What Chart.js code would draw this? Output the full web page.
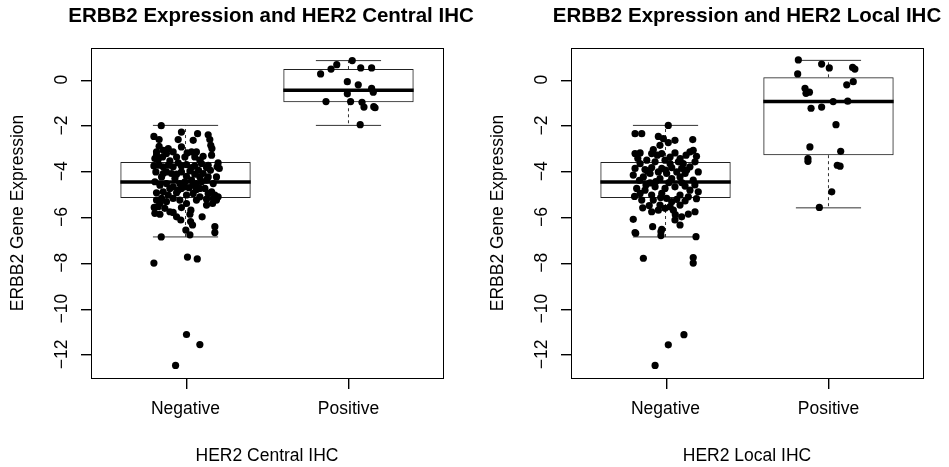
<!DOCTYPE html>
<html><head><meta charset="utf-8">
<script src="https://cdn.jsdelivr.net/npm/chart.js@4/dist/chart.umd.min.js"></script>
<style>
html,body{margin:0;padding:0;background:#fff;overflow:hidden;width:949px;height:467px}
canvas{position:absolute;top:0}
#c1{left:0}
#c2{left:480px}
</style></head><body>
<canvas id="c1" width="474" height="467"></canvas>
<canvas id="c2" width="469" height="467"></canvas>
<script>
// ---------- data ----------
const categories = ['Negative', 'Positive'];
const yTickValues = [-12, -10, -8, -6, -4, -2, 0];

// Box statistics per category [Negative, Positive]
const centralWhiskerLow  = [-6.87, -2.00];
const centralQ1          = [-5.17, -0.99];
const centralMedian      = [-4.47, -0.47];
const centralQ3          = [-3.60,  0.46];
const centralWhiskerHigh = [-2.00,  0.83];

const localWhiskerLow  = [-6.87, -5.60];
const localQ1          = [-5.17, -3.30];
const localMedian      = [-4.47, -0.96];
const localQ3          = [-3.60,  0.10];
const localWhiskerHigh = [-2.00,  0.84];

// Jittered points: [horizontal jitter, expression value]
const centralNegative = [
[-0.149,-2.01],[-0.194,-2.48],[-0.162,-2.62],[-0.025,-2.29],[-0.045,-2.62],[0.047,-2.65],[0.074,-2.36],[0.139,-2.41],
[0.149,-2.62],[0.155,-2.87],[0.162,-3.01],[-0.162,-2.91],[-0.025,-2.94],[-0.076,-3.16],[-0.117,-3.23],[-0.178,-3.30],
[-0.188,-3.45],[-0.141,-3.38],[0.01,-3.20],[0.037,-3.16],[0.067,-3.16],[0.108,-3.35],[0.20,-3.64],[0.194,-3.81],
[0.139,-3.74],[0.098,-3.67],[0.057,-3.77],[0.006,-3.71],[-0.045,-3.64],[-0.076,-3.81],[-0.106,-3.74],[-0.137,-3.81],
[-0.162,-3.74],[-0.194,-3.77],[-0.182,-4.03],[-0.117,-4.03],[-0.086,-4.10],[-0.025,-4.03],[0.027,-3.99],[0.08,-3.96],
[0.108,-4.10],[0.153,-3.96],[0.207,-3.88],[-0.188,-4.46],[-0.147,-4.25],[-0.065,-4.32],[-0.035,-4.54],[-0.004,-4.46],
[0.037,-4.39],[0.067,-4.54],[0.098,-4.46],[0.129,-4.39],[0.17,-4.54],[-0.076,-4.68],[-0.025,-4.75],[0.022,-4.72],
[0.067,-4.80],[0.119,-4.75],[0.16,-4.90],[0.18,-5.04],[-0.178,-4.94],[-0.137,-4.90],[-0.106,-5.04],[-0.055,-4.94],
[0.006,-5.04],[0.047,-4.97],[0.088,-5.12],[0.129,-5.22],[0.19,-5.26],[0.20,-5.12],[-0.147,-5.19],[-0.117,-5.33],
[-0.157,-5.41],[-0.168,-5.55],[-0.192,-5.58],[-0.188,-5.84],[-0.157,-5.88],[-0.096,-5.77],[-0.076,-5.80],[-0.025,-5.59],
[0.033,-5.70],[0.027,-5.88],[-0.029,-6.13],[0.031,-6.20],[0.043,-6.35],[0.102,-5.99],[0.129,-5.48],[0.166,-5.41],
[0.002,-6.57],[0.027,-6.78],[0.18,-6.42],[0.18,-6.68],[-0.149,-6.87],[-0.194,-8.01],[0.012,-7.75],[0.072,-7.83],
[0.006,-11.13],[0.088,-11.57],[-0.061,-12.48],
[-0.178,-3.16],[-0.137,-3.09],[-0.106,-3.01],[-0.055,-3.38],[-0.004,-3.38],[0.057,-3.38],[0.088,-3.52],[0.16,-3.30],
[-0.168,-3.49],[-0.096,-3.55],[-0.025,-3.77],[0.037,-3.84],[0.129,-3.84],[-0.137,-4.10],[-0.055,-4.13],[0.006,-4.22],
[0.057,-4.13],[0.088,-4.25],[0.139,-4.25],[0.19,-4.25],[-0.157,-4.61],[-0.117,-4.54],[-0.096,-4.75],[-0.045,-4.83],
[-0.004,-4.68],[0.047,-4.61],[0.088,-4.75],[0.139,-4.97],[-0.178,-5.26],[-0.076,-5.19],[-0.035,-5.26],[0.067,-5.26],
[0.17,-5.19],[-0.127,-5.62],[0.006,-5.41],[-0.055,-5.99]
];
const centralPositive = [
[0.023,0.83],[-0.072,0.65],[-0.107,0.46],[-0.171,0.25],[0.075,0.51],[0.142,0.51],[-0.007,-0.09],[0.06,-0.23],
[0.142,-0.38],[0.152,-0.55],[-0.007,-0.62],[-0.138,-0.96],[0.013,-0.96],[0.083,-0.99],[0.095,-1.20],[0.163,-1.23],
[0.155,-1.18],[0.072,-1.97]
];
const localNegative = [
[0.017,-2.0],[-0.187,-2.36],[-0.146,-2.36],[-0.044,-2.48],[-0.013,-2.58],[0.017,-2.75],[0.058,-2.65],[-0.034,-2.87],
[0.167,-2.62],[-0.075,-3.06],[-0.085,-3.23],[-0.187,-3.23],[-0.156,-3.2],[-0.023,-3.23],[0.028,-3.38],[0.058,-3.2],
[0.15,-3.16],[0.17,-3.09],[0.126,-3.3],[-0.115,-3.52],[-0.064,-3.59],[-0.003,-3.52],[0.079,-3.59],[0.181,-3.59],
[-0.156,-3.67],[0.028,-3.67],[0.109,-3.67],[-0.187,-3.88],[-0.126,-3.93],[-0.085,-3.84],[-0.023,-3.88],[0.038,-3.84],
[0.099,-3.88],[0.15,-3.81],[0.201,-4.03],[-0.198,-4.17],[-0.095,-4.1],[-0.044,-4.03],[0.007,-4.1],[0.069,-4.03],
[0.12,-4.1],[-0.136,-4.25],[-0.034,-4.32],[0.038,-4.32],[0.089,-4.25],[0.17,-4.39],[-0.095,-4.51],[-0.064,-4.68],
[-0.177,-4.75],[-0.126,-4.83],[-0.003,-4.75],[0.058,-4.68],[0.12,-4.65],[0.15,-4.83],[0.201,-4.9],[-0.156,-4.97],
[-0.085,-5.04],[-0.023,-4.97],[0.089,-5.04],[0.14,-5.12],[-0.146,-5.26],[-0.075,-5.26],[0.007,-5.19],[0.038,-5.33],
[0.069,-5.23],[-0.034,-5.48],[0.028,-5.55],[0.089,-5.48],[-0.003,-5.62],[-0.085,-5.77],[-0.044,-5.7],[0.048,-5.7],
[0.099,-5.99],[0.14,-5.87],[0.181,-5.77],[-0.198,-6.1],[0.058,-6.13],[0.089,-6.35],[-0.079,-6.42],[-0.023,-6.54],
[-0.187,-6.68],[-0.183,-6.71],[-0.028,-6.64],[-0.028,-6.81],[0.187,-6.86],[-0.136,-7.8],[0.17,-7.77],[0.17,-8.01],
[0.113,-11.14],[0.017,-11.58],[-0.064,-12.48],
[-0.17,-3.45],[-0.05,-3.3],[0.09,-3.45],[0.19,-3.35],[-0.11,-4.0],[0.0,-3.95],[0.13,-3.95],[-0.16,-4.4],
[-0.06,-4.45],[0.02,-4.5],[0.1,-4.5],[0.18,-4.6],[-0.12,-4.6],[-0.19,-5.1],[-0.03,-5.15],[0.12,-5.3],
[0.19,-5.2],[-0.1,-5.5],[0.06,-5.9],[-0.14,-5.6]
];
const localPositive = [
[-0.185,0.86],[-0.042,0.68],[0.005,0.51],[0.148,0.53],[0.162,0.46],[-0.189,0.25],[0.152,-0.09],[0.112,-0.23],
[-0.144,-0.38],[-0.138,-0.6],[-0.117,-0.55],[0.029,-0.96],[0.118,-0.94],[-0.107,-1.25],[-0.042,-1.2],[0.046,-1.97],
[-0.114,-2.94],[0.075,-3.13],[-0.126,-3.45],[-0.126,-3.57],[0.054,-3.74],[0.071,-3.78],[0.02,-4.9],[-0.056,-5.58]
];

// ---------- rendering ----------
const FONT = "'Liberation Sans', Arial, Helvetica, sans-serif";
const BOX_HALF = 0.4, STAPLE_HALF = 0.2;
const Y_MIN = -13.03, Y_MAX = 1.38;
const TICK_LEN = 10;

const fmt = v => (v < 0 ? '\u2212' + Math.abs(v) : String(v));

const decorPlugin = {
  id: 'decor',
  afterDraw(chart) {
    const {ctx, chartArea: a} = chart;
    const xs = chart.scales.x, ys = chart.scales.y;
    const L = Math.round(a.left), T = Math.round(a.top), R = Math.round(a.right), B = Math.round(a.bottom);
    ctx.save();
    ctx.fillStyle = '#000';
    // frame
    ctx.fillRect(L, T, R - L + 1, 1);
    ctx.fillRect(L, B, R - L + 1, 1);
    ctx.fillRect(L, T, 1, B - T + 1);
    ctx.fillRect(R, T, 1, B - T + 1);
    // tick marks
    categories.forEach((c, i) => {
      const px = Math.round(xs.getPixelForValue(i + 1));
      ctx.fillRect(px, B, 1.4, TICK_LEN + 1);
    });
    yTickValues.forEach(v => {
      const py = Math.round(ys.getPixelForValue(v));
      ctx.fillRect(L - TICK_LEN, py, TICK_LEN + 1, 1.4);
    });

    ctx.font = "17.5px " + FONT;
    ctx.textAlign = 'center';
    ctx.textBaseline = 'middle';
    yTickValues.forEach(v => {
      const py = ys.getPixelForValue(v);
      ctx.save();
      ctx.translate(62, py);
      ctx.rotate(-Math.PI / 2);
      ctx.fillText(fmt(v), 0, 0);
      ctx.restore();
    });
    ctx.font = "bold 20.5px " + FONT;
    ctx.fillText(chart.options.plugins.decor.title, (a.left + a.right) / 2 + chart.options.plugins.decor.titleShift, 16.5);
    ctx.restore();
  }
};

function makeChart(id, title, xTitle, lo, q1, med, q3, hi, neg, pos, padRight, titleShift) {
  const boxes = categories.map((c, i) => ({x: i + 1, y: [q1[i], q3[i]]}));
  const medians = [], whiskers = [], staples = [];
  categories.forEach((c, i) => {
    const x = i + 1;
    medians.push({x: x - BOX_HALF, y: med[i]}, {x: x + BOX_HALF, y: med[i]}, {x: x, y: null});
    whiskers.push({x: x, y: q3[i]}, {x: x, y: hi[i]}, {x: x, y: null},
                  {x: x, y: q1[i]}, {x: x, y: lo[i]}, {x: x, y: null});
    staples.push({x: x - STAPLE_HALF, y: hi[i]}, {x: x + STAPLE_HALF, y: hi[i]}, {x: x, y: null},
                 {x: x - STAPLE_HALF, y: lo[i]}, {x: x + STAPLE_HALF, y: lo[i]}, {x: x, y: null});
  });
  const points = [];
  [neg, pos].forEach((grp, i) => grp.forEach(p => points.push({x: i + 1 + p[0], y: p[1]})));

  return new Chart(document.getElementById(id), {
    type: 'scatter',
    data: {
      datasets: [
        {type: 'scatter', data: points, order: 0, pointRadius: 3.6, pointHoverRadius: 3.6,
         backgroundColor: '#000', borderWidth: 0},
        {type: 'line', data: medians, order: 1, borderColor: '#000', borderWidth: 3.5, pointRadius: 0,
         spanGaps: false, tension: 0, fill: false, borderCapStyle: 'butt'},
        {type: 'line', data: staples, order: 2, borderColor: '#333', borderWidth: 1, pointRadius: 0,
         spanGaps: false, tension: 0, fill: false},
        {type: 'line', data: whiskers, order: 3, borderColor: '#333', borderWidth: 1, borderDash: [3, 3],
         pointRadius: 0, spanGaps: false, tension: 0, fill: false},
        {type: 'bar', data: boxes, order: 4, backgroundColor: 'rgba(0,0,0,0)', borderColor: '#222',
         borderWidth: 1, borderSkipped: false, barPercentage: 0.8, categoryPercentage: 1}
      ]
    },
    options: {
      responsive: false,
      animation: false,
      events: [],
      layout: {padding: {left: 0, right: padRight, top: 48, bottom: 0}},
      plugins: {
        legend: {display: false},
        tooltip: {enabled: false},
        title: {display: false},
        decor: {title: title, titleShift: titleShift}
      },
      scales: {
        x: {
          type: 'linear', min: 0.42, max: 2.58, offset: false,
          afterBuildTicks: s => { s.ticks = categories.map((c, i) => ({value: i + 1})); },
          afterFit: s => { s.height = 89; },
          ticks: {autoSkip: false, maxRotation: 0, minRotation: 0, padding: 13, color: '#000',
                  font: {family: FONT, size: 17.5},
                  callback: v => categories[Math.round(v) - 1]},
          grid: {display: false},
          border: {display: false},
          title: {display: true, text: xTitle, color: '#000', font: {family: FONT, size: 17.5},
                  padding: {top: 5.5, bottom: 0}}
        },
        y: {
          type: 'linear', min: Y_MIN, max: Y_MAX,
          afterBuildTicks: s => { s.ticks = yTickValues.map(v => ({value: v})); },
          afterFit: s => { s.width = 91; },
          ticks: {display: false},
          grid: {display: false},
          border: {display: false},
          title: {display: true, text: 'ERBB2 Gene Expression', color: '#000',
                  font: {family: FONT, size: 17.5}, padding: {top: 7.5, bottom: 0}}
        }
      }
    },
    plugins: [decorPlugin]
  });
}

makeChart('c1', 'ERBB2 Expression and HER2 Central IHC', 'HER2 Central IHC',
  centralWhiskerLow, centralQ1, centralMedian, centralQ3, centralWhiskerHigh,
  centralNegative, centralPositive, 31, 4);
makeChart('c2', 'ERBB2 Expression and HER2 Local IHC', 'HER2 Local IHC',
  localWhiskerLow, localQ1, localMedian, localQ3, localWhiskerHigh,
  localNegative, localPositive, 26, 0);
</script>
</body></html>
